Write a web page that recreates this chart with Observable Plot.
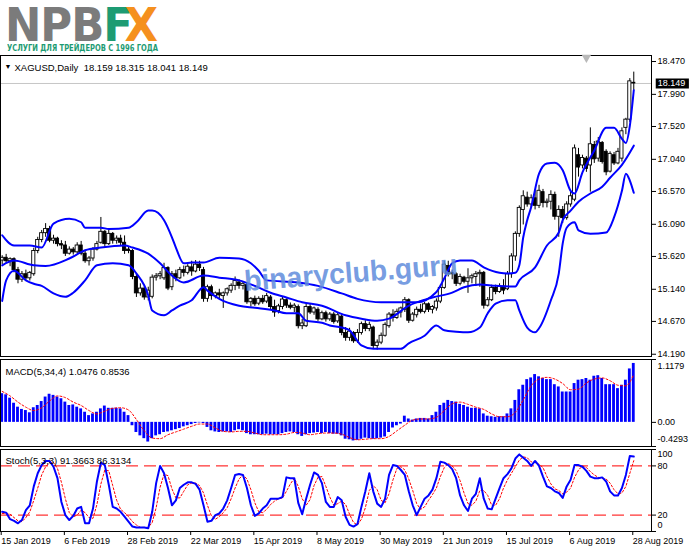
<!DOCTYPE html>
<html><head><meta charset="utf-8">
<script src="https://cdn.jsdelivr.net/npm/d3@7"></script>
<script src="https://cdn.jsdelivr.net/npm/@observablehq/plot@0.6"></script>
<style>
html,body{margin:0;padding:0;background:#fff;}
#wrap{position:relative;width:691px;height:549px;overflow:hidden;background:#fff;}
#wrap svg{position:absolute;left:0;overflow:visible;}
#logo{position:absolute;left:5px;top:8px;font-family:"DejaVu Sans Condensed","DejaVu Sans",sans-serif;font-weight:bold;font-size:46px;line-height:34px;letter-spacing:-1px;white-space:nowrap;transform-origin:0 0;}
#tag{position:absolute;left:7px;top:43px;font-family:"DejaVu Sans Condensed","DejaVu Sans",sans-serif;font-weight:bold;font-size:9.5px;line-height:9.5px;color:#1d9b73;white-space:nowrap;transform-origin:0 0;}
#wm{position:absolute;left:245px;top:267px;font-family:"Liberation Sans",Arial,sans-serif;font-weight:bold;font-size:29px;line-height:29px;color:rgba(96,140,220,0.85);white-space:nowrap;transform-origin:0 24px;pointer-events:none;z-index:5;}
</style></head>
<body>
<div id="wrap">
  <div id="logo"><span style="color:#7b7b7b">NPB</span><span style="color:#1d9b73">F</span><span style="color:#f5901e;margin-left:-7px">X</span></div>
  <div id="tag">УСЛУГИ ДЛЯ ТРЕЙДЕРОВ С 1996 ГОДА</div>
  <div id="wm">binaryclub.guru</div>
</div>
<script>
// ---------- DATA ----------
const symbolName = "XAGUSD,Daily";
const labelDates = ["15 Jan 2019","6 Feb 2019","28 Feb 2019","22 Mar 2019","15 Apr 2019","8 May 2019","30 May 2019","21 Jun 2019","15 Jul 2019","6 Aug 2019","28 Aug 2019"];
const labelBars = [0,16,32,48,64,80,96,112,128,144,160];
const priceTicks = [18.470,17.990,17.520,17.040,16.570,16.090,15.620,15.140,14.670,14.190];
const macdTicks = [1.1179, 0, -0.4293];
const macdTickText = ["1.1179","0.00","-0.4293"];
const stochTicks = [100, 80, 20, 0];
const shiftBar = [148];

const opens = [15.56,15.60,15.55,15.58,15.42,15.28,15.36,15.30,15.36,15.70,
15.86,15.96,16.02,15.85,15.88,15.80,15.78,15.66,15.72,15.68,
15.78,15.66,15.55,15.59,15.72,15.82,15.98,15.80,15.95,15.85,
15.88,15.82,15.72,15.70,15.32,15.08,15.15,15.02,15.03,15.31,
15.33,15.30,15.45,15.17,15.36,15.30,15.42,15.38,15.46,15.40,
15.50,15.42,15.00,15.17,15.04,15.08,15.04,15.08,15.12,15.19,
15.24,15.19,15.20,14.95,15.00,14.93,15.00,14.96,15.02,14.88,
14.82,14.88,14.98,14.90,14.87,14.88,14.60,14.60,14.88,14.80,
14.84,14.70,14.79,14.70,14.77,14.67,14.74,14.50,14.43,14.50,
14.38,14.50,14.63,14.56,14.58,14.31,14.36,14.46,14.60,14.77,
14.72,14.80,14.84,14.98,14.68,14.76,14.84,14.81,14.92,14.84,
14.86,14.96,15.16,15.48,15.36,15.36,15.22,15.31,15.25,15.30,
15.32,15.36,15.38,14.90,14.98,15.16,15.10,15.18,15.14,15.36,
15.62,15.95,16.30,16.48,16.38,16.47,16.36,16.56,16.40,16.42,
16.52,16.20,16.30,16.18,16.38,16.45,17.10,16.95,17.05,16.95,
17.25,17.05,17.28,17.15,16.86,17.10,16.98,17.05,17.50,17.62,
18.159];
const highs = [15.63,15.65,15.60,15.60,15.46,15.40,15.42,15.40,15.74,15.90,
16.00,16.10,16.06,15.93,15.90,15.85,15.84,15.76,15.75,15.82,
15.84,15.70,15.62,15.75,15.84,16.19,16.00,16.00,15.97,15.92,
15.93,15.92,15.76,15.72,15.36,15.22,15.18,15.17,15.35,15.37,
15.40,15.52,15.47,15.40,15.42,15.46,15.48,15.50,15.55,15.56,
15.55,15.46,15.20,15.20,15.10,15.14,15.10,15.16,15.22,15.32,
15.28,15.25,15.23,15.02,15.04,15.03,15.05,15.08,15.05,14.98,
14.92,15.02,15.00,14.94,14.93,14.91,14.70,14.92,14.92,14.88,
14.87,14.82,14.82,14.80,14.80,14.80,14.78,14.58,14.57,14.52,
14.55,14.66,14.68,14.66,14.60,14.40,14.50,14.65,14.80,14.84,
14.85,14.88,15.02,15.00,14.80,14.88,14.92,14.95,14.94,14.90,
15.00,15.20,15.55,15.55,15.42,15.38,15.36,15.33,15.44,15.36,
15.40,15.42,15.40,15.02,15.20,15.20,15.22,15.28,15.40,15.66,
15.98,16.36,16.58,16.56,16.52,16.58,16.66,16.60,16.46,16.58,
16.56,16.36,16.35,16.42,16.56,17.25,17.20,17.10,17.08,17.50,
17.30,17.36,17.30,17.18,17.15,17.14,17.20,17.50,17.64,18.22,
18.315];
const lows = [15.50,15.52,15.47,15.38,15.22,15.24,15.27,15.26,15.33,15.66,
15.82,15.90,15.82,15.80,15.76,15.72,15.62,15.64,15.64,15.66,
15.63,15.52,15.48,15.55,15.70,15.80,15.75,15.78,15.80,15.80,
15.77,15.65,15.66,15.28,15.02,15.04,14.98,14.97,15.00,15.26,
15.28,15.27,15.12,15.12,15.25,15.28,15.32,15.35,15.33,15.38,
15.40,14.95,14.95,14.98,15.00,15.00,14.86,15.04,15.08,15.12,
15.14,15.13,14.92,14.88,14.89,14.90,14.92,14.93,14.83,14.73,
14.78,14.84,14.86,14.84,14.80,14.56,14.55,14.58,14.77,14.76,
14.67,14.68,14.66,14.67,14.63,14.64,14.46,14.38,14.38,14.35,
14.35,14.47,14.52,14.52,14.27,14.25,14.33,14.44,14.57,14.66,
14.70,14.72,14.80,14.64,14.66,14.72,14.78,14.78,14.80,14.78,
14.82,14.93,15.14,15.32,15.28,15.18,15.19,15.22,15.08,15.22,
15.18,15.17,14.85,14.88,14.96,15.06,15.08,15.06,15.12,15.30,
15.55,15.90,16.08,16.34,16.33,16.30,16.32,16.33,16.33,16.30,
16.15,15.90,16.10,16.15,16.34,16.42,16.78,16.90,16.85,16.56,
16.98,17.00,16.97,16.80,16.84,16.95,16.96,17.00,17.40,17.58,
18.041];
const closes = [15.60,15.55,15.58,15.42,15.28,15.36,15.30,15.38,15.70,15.86,
15.96,16.02,15.85,15.88,15.80,15.78,15.66,15.72,15.68,15.78,
15.66,15.55,15.59,15.72,15.80,15.98,15.80,15.95,15.85,15.88,
15.82,15.70,15.70,15.32,15.08,15.15,15.02,15.12,15.31,15.33,
15.36,15.45,15.15,15.36,15.30,15.42,15.38,15.47,15.40,15.50,
15.45,15.00,15.17,15.04,15.08,15.05,15.08,15.14,15.19,15.26,
15.19,15.22,14.95,15.00,14.92,15.00,14.95,15.04,14.88,14.80,
14.89,14.99,14.90,14.87,14.90,14.60,14.64,14.88,14.80,14.86,
14.70,14.79,14.70,14.77,14.66,14.76,14.50,14.43,14.52,14.38,
14.50,14.63,14.56,14.62,14.31,14.36,14.46,14.62,14.77,14.72,
14.81,14.86,14.98,14.68,14.77,14.84,14.81,14.92,14.84,14.88,
14.96,15.16,15.50,15.36,15.38,15.22,15.32,15.25,15.30,15.33,
15.36,15.38,14.90,14.98,15.16,15.10,15.18,15.12,15.36,15.62,
15.95,16.33,16.50,16.38,16.47,16.36,16.58,16.40,16.42,16.52,
16.20,16.30,16.18,16.38,16.50,17.20,16.92,17.06,16.90,17.26,
17.04,17.30,17.00,16.85,17.12,16.98,17.15,17.45,17.62,18.18,
18.149];

const upperIdx = [0,3,7,10,13,17,20,21,25,27,32,34,37,38,41,43,44,46,48,51,55,60,63,65,67,75,80,86,90,96,105,110,112,114,116,119,122,126,128,130,131,132,133,134,136,138,140,142,144,145,147,150,153,155,157,158,159,160];
const upperVal = [15.93,15.78,15.78,15.75,16.10,16.17,16.12,16.04,16.04,16.02,16.04,16.12,16.29,16.29,16.15,15.90,15.75,15.52,15.53,15.53,15.60,15.59,15.52,15.41,15.27,15.24,15.19,15.08,15.00,14.95,14.95,15.10,15.30,15.52,15.56,15.56,15.46,15.38,15.37,15.38,15.49,15.90,16.15,16.34,16.83,16.98,16.99,16.88,16.58,16.54,16.85,17.17,17.50,17.50,17.34,17.28,17.53,18.05];
const middleIdx = [0,3,8,11,17,21,25,31,33,37,40,43,46,51,55,60,64,68,72,76,81,87,91,95,98,103,109,114,117,121,125,130,131,135,138,141,142,144,146,149,152,154,157,160];
const middleVal = [15.49,15.56,15.49,15.48,15.59,15.71,15.75,15.78,15.75,15.66,15.52,15.34,15.24,15.34,15.31,15.27,15.19,15.09,15.02,14.95,14.90,14.76,14.71,14.68,14.71,14.90,15.02,15.09,15.17,15.21,15.19,15.18,15.27,15.46,15.78,15.97,16.15,16.29,16.42,16.54,16.64,16.77,16.96,17.24];
const lowerIdx = [0,1,3,6,8,10,13,16,18,21,24,28,32,34,37,38,41,43,45,48,51,52,55,60,64,69,72,75,77,81,83,86,88,91,94,98,101,103,107,110,112,115,118,121,123,125,128,130,131,133,135,136,139,141,142,143,145,146,149,153,155,157,158,159,160];
const lowerVal = [14.97,15.27,15.41,15.27,15.22,15.19,15.08,15.03,15.09,15.27,15.49,15.52,15.49,15.37,15.05,14.83,14.76,14.83,14.90,14.98,15.17,15.12,15.00,14.90,14.87,14.83,14.79,14.79,14.68,14.65,14.61,14.58,14.54,14.32,14.27,14.27,14.27,14.35,14.46,14.61,14.54,14.52,14.51,14.58,14.79,14.93,14.98,14.98,14.83,14.58,14.51,14.57,14.98,15.37,15.81,16.04,16.12,16.00,15.95,15.97,16.19,16.58,16.83,16.73,16.55];

const macdVals = [0.51,0.49,0.43,0.34,0.27,0.23,0.21,0.17,0.26,0.30,
0.37,0.45,0.50,0.48,0.45,0.42,0.36,0.30,0.31,0.27,
0.24,0.18,0.12,0.15,0.18,0.24,0.29,0.25,0.25,0.25,
0.24,0.18,0.12,-0.06,-0.18,-0.24,-0.29,-0.35,-0.29,-0.24,
-0.22,-0.18,-0.17,-0.15,-0.13,-0.11,-0.08,-0.06,-0.04,-0.02,
-0.01,-0.02,-0.09,-0.15,-0.17,-0.18,-0.17,-0.17,-0.18,-0.15,
-0.13,-0.15,-0.20,-0.22,-0.22,-0.22,-0.22,-0.21,-0.22,-0.22,
-0.22,-0.20,-0.18,-0.17,-0.18,-0.22,-0.25,-0.22,-0.20,-0.19,
-0.18,-0.20,-0.18,-0.20,-0.21,-0.21,-0.24,-0.30,-0.31,-0.33,
-0.32,-0.30,-0.28,-0.29,-0.30,-0.29,-0.28,-0.26,-0.18,-0.10,
-0.06,-0.03,0.11,0.06,0.04,0.06,0.07,0.07,0.06,0.12,
0.18,0.30,0.34,0.39,0.37,0.36,0.32,0.30,0.27,0.25,
0.25,0.24,0.15,0.11,0.10,0.09,0.10,0.10,0.15,0.24,
0.39,0.58,0.66,0.76,0.79,0.85,0.81,0.78,0.76,0.76,
0.67,0.63,0.54,0.54,0.54,0.69,0.75,0.76,0.78,0.75,
0.82,0.83,0.78,0.67,0.67,0.67,0.60,0.66,0.75,0.95,
1.0476];
const macdSigIdx = [0,2,4,6,8,10,12,14,16,18,20,22,24,26,28,30,32,34,36,38,40,42,44,46,48,50,52,54,56,58,60,62,64,66,68,70,72,74,76,78,80,82,84,86,88,90,92,94,96,98,100,102,104,106,108,110,112,114,116,118,120,122,124,126,128,130,132,134,136,138,140,142,144,146,148,150,152,154,156,158,160];
const macdSigVals = [0.55,0.47,0.36,0.27,0.21,0.26,0.38,0.47,0.44,0.36,0.30,0.21,0.15,0.20,0.25,0.26,0.22,0.05,-0.15,-0.28,-0.29,-0.22,-0.17,-0.12,-0.07,-0.03,-0.03,-0.10,-0.16,-0.17,-0.16,-0.16,-0.19,-0.22,-0.22,-0.22,-0.21,-0.18,-0.19,-0.22,-0.20,-0.19,-0.19,-0.21,-0.27,-0.31,-0.30,-0.29,-0.29,-0.25,-0.15,-0.05,0.04,0.06,0.06,0.09,0.21,0.33,0.36,0.32,0.27,0.23,0.15,0.10,0.10,0.18,0.40,0.65,0.77,0.80,0.77,0.69,0.58,0.59,0.70,0.77,0.79,0.74,0.66,0.65,0.8536];

const stochMain = [24,23,15,13,10,14,26,32,55,71,
81,86,86,79,65,36,20,14,19,28,
30,10,10,28,61,84,81,57,30,28,
24,18,12,6,5,5,5,4,24,59,
80,71,53,32,38,53,57,60,60,58,
51,32,12,13,20,22,28,38,53,69,
70,69,53,32,19,22,28,32,40,40,
40,42,66,65,65,35,21,40,57,72,
69,59,36,30,30,42,38,18,8,6,
9,30,49,71,49,34,30,40,69,81,
80,75,69,49,32,20,30,40,44,51,
65,85,84,81,76,65,44,32,25,40,
46,65,40,28,27,40,53,65,70,77,
89,94,90,86,80,86,80,67,55,53,
49,47,41,55,63,81,81,79,74,67,
65,65,66,61,49,44,44,53,69,92,
91.3663];
const stochSignal = [22,22,21,17,13,12,17,24,38,53,
69,79,84,84,77,60,40,23,18,20,
26,23,17,16,33,58,75,74,56,38,
27,23,18,12,8,5,5,5,11,29,
54,70,68,52,41,41,49,57,59,59,
56,47,32,19,15,18,23,29,40,53,
64,69,64,51,35,24,23,27,33,37,
40,41,49,58,65,55,40,32,39,56,
66,67,55,42,32,34,37,33,21,11,
8,15,29,50,56,51,38,35,46,63,
77,79,75,64,50,34,27,30,38,45,
53,67,78,83,80,74,62,47,34,32,
37,50,50,44,32,32,40,53,63,71,
79,87,91,90,85,84,82,78,67,58,
52,50,46,48,53,66,75,80,78,73,
69,66,65,64,59,51,46,47,55,71,
86.3134];

// ---------- BUILD ----------
const bars = closes.map((c, i) => ({i, open: opens[i], high: highs[i], low: lows[i], close: c}));
const pts = (idx, val) => idx.map((i, k) => ({i, v: val[k]}));
const upper = pts(upperIdx, upperVal), middle = pts(middleIdx, middleVal), lower = pts(lowerIdx, lowerVal);
const macd = macdVals.map((v, i) => ({i, v}));
const macdSig = pts(macdSigIdx, macdSigVals);
const stMain = stochMain.map((v, i) => ({i, v}));
const stSig = stochSignal.map((v, i) => ({i, v}));
const last = bars[bars.length - 1];

const XD = [-0.431, 164.49];
const style = {fontFamily: "'Liberation Sans', Arial, sans-serif", fontSize: "9px", background: "transparent", overflow: "visible", color: "#000"};
const base = {width: 691, marginLeft: 0, marginRight: 40, marginTop: 0, x: {type: "linear", domain: XD, axis: null}, style};
const blue = "#0000ff", red = "#ff0000";

const header = `${symbolName}  ${last.open.toFixed(3)} ${last.high.toFixed(3)} ${last.low.toFixed(3)} ${last.close.toFixed(3)}`;

const mainSvg = Plot.plot({
  ...base, height: 301, marginBottom: 0,
  y: {domain: [14.157, 18.558], axis: null},
  marks: [
    Plot.ruleY([last.close], {stroke: "#c6c6c6"}),
    Plot.ruleX(bars, {x: "i", y1: "low", y2: "high", stroke: "#000", strokeWidth: 1}),
    Plot.rect(bars, {x1: d => d.i - 0.4, x2: d => d.i + 0.4, y1: "open", y2: "close",
      fill: d => d.close >= d.open ? "#ffffff" : "#000000", stroke: "#000", strokeWidth: 0.9}),
    Plot.line(upper, {x: "i", y: "v", stroke: blue, strokeWidth: 2, curve: "monotone-x"}),
    Plot.line(middle, {x: "i", y: "v", stroke: blue, strokeWidth: 2, curve: "monotone-x"}),
    Plot.line(lower, {x: "i", y: "v", stroke: blue, strokeWidth: 2, curve: "monotone-x"}),
    Plot.frame({stroke: "#000"}),
    Plot.axisY(priceTicks, {anchor: "right", label: null, tickSize: 4, tickPadding: 2, tickFormat: d => d.toFixed(3)}),
    Plot.ruleY([last.close], {x1: XD[1] + 1.2, x2: XD[1] + 9.6, stroke: "#000", strokeWidth: 10}),
    Plot.text([last.close], {y: d => d, x: XD[1] + 1.6, text: d => d.toFixed(3), fill: "#fff", textAnchor: "start"}),
    Plot.text([header], {frameAnchor: "top-left", dx: 14, dy: 9, textAnchor: "start", fontSize: 9.5}),
    Plot.text(["▼"], {frameAnchor: "top-left", dx: 4, dy: 9, textAnchor: "start", fontSize: 7}),
    Plot.dot(shiftBar, {x: d => d, frameAnchor: "top", dy: 2, symbol: "triangle", r: 3.5, rotate: 180, fill: "#b9b9b9", stroke: "none"})
  ]
});

const macdTitle = `MACD(5,34,4) ${macdVals[macdVals.length - 1].toFixed(4)} ${macdSigVals[macdSigVals.length - 1].toFixed(4)}`;
const macdSvg = Plot.plot({
  ...base, height: 87, marginBottom: 0,
  y: {domain: [-0.4293, 1.1179], axis: null},
  marks: [
    Plot.rect(macd, {x1: d => d.i - 0.36, x2: d => d.i + 0.36, y1: () => 0, y2: "v", fill: blue}),
    Plot.line(macdSig, {x: "i", y: "v", stroke: red, strokeWidth: 1, strokeDasharray: "2,2", curve: "monotone-x"}),
    Plot.frame({stroke: "#000"}),
    Plot.axisY(macdTicks, {anchor: "right", label: null, tickSize: 4, tickFormat: () => ""}),
    Plot.text([macdTicks[0]], {y: d => d, frameAnchor: "right", dx: 6, dy: 7, textAnchor: "start", text: () => macdTickText[0]}),
    Plot.text([macdTicks[1]], {y: d => d, frameAnchor: "right", dx: 6, dy: 0, textAnchor: "start", text: () => macdTickText[1]}),
    Plot.text([macdTicks[2]], {y: d => d, frameAnchor: "right", dx: 6, dy: -7, textAnchor: "start", text: () => macdTickText[2]}),
    Plot.text([macdTitle], {frameAnchor: "top-left", dx: 5, dy: 9, textAnchor: "start", fontSize: 9.5})
  ]
});

const stochTitle = `Stoch(5,3,3) ${stochMain[stochMain.length - 1].toFixed(4)} ${stochSignal[stochSignal.length - 1].toFixed(4)}`;
const stochSvg = Plot.plot({
  ...base, height: 100, marginBottom: 18,
  y: {domain: [0, 100], axis: null},
  marks: [
    Plot.ruleY([80, 20], {stroke: red, strokeDasharray: "12,6", strokeWidth: 1}),
    Plot.line(stSig, {x: "i", y: "v", stroke: red, strokeWidth: 1, strokeDasharray: "2,2"}),
    Plot.line(stMain, {x: "i", y: "v", stroke: blue, strokeWidth: 2}),
    Plot.frame({stroke: "#000"}),
    Plot.axisY(stochTicks, {anchor: "right", label: null, tickSize: 4, tickFormat: () => ""}),
    Plot.text([stochTicks[0]], {y: d => d, frameAnchor: "right", dx: 6, dy: 5, textAnchor: "start", text: d => String(d)}),
    Plot.text([stochTicks[1]], {y: d => d, frameAnchor: "right", dx: 6, dy: 0, textAnchor: "start", text: d => String(d)}),
    Plot.text([stochTicks[2]], {y: d => d, frameAnchor: "right", dx: 6, dy: 0, textAnchor: "start", text: d => String(d)}),
    Plot.text([stochTicks[3]], {y: d => d, frameAnchor: "right", dx: 6, dy: -6, textAnchor: "start", text: d => String(d)}),
    Plot.axisX(labelBars, {anchor: "bottom", label: null, tickSize: 4, tickPadding: 2, textAnchor: "start", dx: -1,
      tickFormat: d => labelDates[labelBars.indexOf(d)]}),
    Plot.text([stochTitle], {frameAnchor: "top-left", dx: 5, dy: 8, textAnchor: "start", fontSize: 9.5})
  ]
});

const wrap = document.getElementById("wrap");
[[mainSvg, 55], [macdSvg, 359], [stochSvg, 449]].forEach(([svg, top]) => {
  svg.style.position = "absolute";
  svg.style.top = top + "px";
  svg.style.left = "0px";
  wrap.appendChild(svg);
});
wrap.appendChild(document.getElementById("wm"));

function fitWidth(id, target, extra) {
  const el = document.getElementById(id);
  const w = el.getBoundingClientRect().width;
  el.style.transform = (extra || "") + ` scaleX(${target / w})`;
}
fitWidth("logo", 152);
fitWidth("tag", 151);
fitWidth("wm", 214, "rotate(-4.5deg)");
</script>
</body></html>
